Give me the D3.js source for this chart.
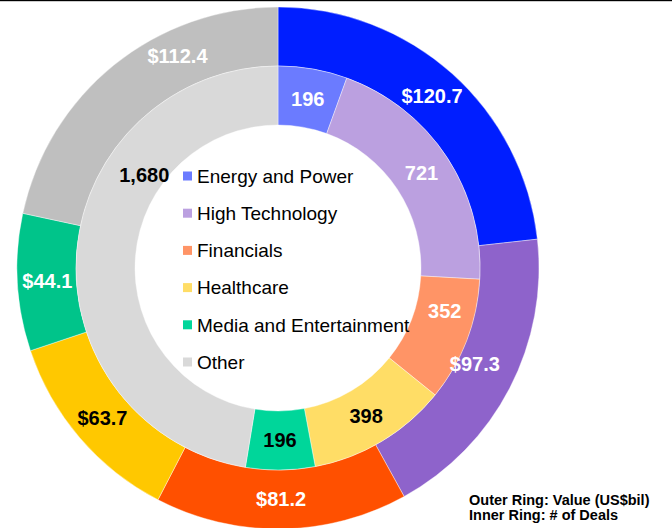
<!DOCTYPE html>
<head>
  <meta charset="utf-8">
  <script src="https://d3js.org/d3.v7.min.js"></script>
  <style>
    body { margin:0; background:#fff; }
    text { font-family: "Liberation Sans", Arial, sans-serif; }
  </style>
</head>
<body>
  <script>
    // data
    var categories = ["Energy and Power", "High Technology", "Financials", "Healthcare", "Media and Entertainment", "Other"]
    var valueBil = [120.7, 97.3, 81.2, 63.7, 44.1, 112.4]   // outer ring
    var dealCount = [196, 721, 352, 398, 196, 1680]         // inner ring

    var outerColors = ["#001eff", "#8e63cb", "#ff5000", "#ffc800", "#00c48a", "#bfbfbf"]
    var innerColors = ["#6b7bff", "#bba0e0", "#ff9466", "#ffdd66", "#00d69a", "#d9d9d9"]
    var outerTextColors = ["#fff", "#fff", "#fff", "#000", "#fff", "#fff"]
    var innerTextColors = ["#fff", "#fff", "#fff", "#000", "#000", "#000"]

    // where inside each slice the label sits (fraction of the angle, radius)
    var outerLabelFrac = [0.5, 0.48, 0.5, 0.5, 0.5, 0.675]
    var outerLabelR = [231, 219, 231, 231, 231, 235]
    var innerLabelFrac = [0.5, 0.5, 0.31, 0.5, 0.5, 0.677]
    var innerLabelR = [172, 172, 172, 172, 172, 163]

    var width = 672, height = 528
    var cx = 278, cy = 268
    var rOuter = 261, rMid = 202, rInner = 143

    var svg = d3.select("body").append("svg")
      .attr("width", width)
      .attr("height", height)

    svg.append("rect").attr("x", 0).attr("y", 0).attr("width", width).attr("height", 1.2).attr("fill", "#000")

    var g = svg.append("g").attr("transform", "translate(" + cx + "," + cy + ")")

    var pie = d3.pie().sort(null).value(function(d){ return d })

    var outerArcs = pie(valueBil)
    var innerArcs = pie(dealCount)

    var outerArc = d3.arc().innerRadius(rMid).outerRadius(rOuter)
    var innerArc = d3.arc().innerRadius(rInner).outerRadius(rMid)

    g.selectAll(".outer").data(outerArcs).enter().append("path")
      .attr("class", "outer")
      .attr("d", outerArc)
      .attr("fill", function(d,i){ return outerColors[i] })
      .attr("stroke", "#fff").attr("stroke-width", 0.4)

    g.selectAll(".inner").data(innerArcs).enter().append("path")
      .attr("class", "inner")
      .attr("d", innerArc)
      .attr("fill", function(d,i){ return innerColors[i] })
      .attr("stroke", "#fff").attr("stroke-width", 0.4)

    function labelPos(d, frac, r){
      var a = d.startAngle + frac * (d.endAngle - d.startAngle)
      return [r * Math.sin(a), -r * Math.cos(a)]
    }

    g.selectAll(".olab").data(outerArcs).enter().append("text")
      .attr("class", "olab")
      .attr("transform", function(d,i){ return "translate(" + labelPos(d, outerLabelFrac[i], outerLabelR[i]) + ")" })
      .attr("dy", "0.36em")
      .attr("text-anchor", "middle")
      .attr("font-size", 20).attr("font-weight", "bold")
      .attr("fill", function(d,i){ return outerTextColors[i] })
      .text(function(d){ return "$" + d.data.toFixed(1) })

    g.selectAll(".ilab").data(innerArcs).enter().append("text")
      .attr("class", "ilab")
      .attr("transform", function(d,i){ return "translate(" + labelPos(d, innerLabelFrac[i], innerLabelR[i]) + ")" })
      .attr("dy", "0.36em")
      .attr("text-anchor", "middle")
      .attr("font-size", 20).attr("font-weight", "bold")
      .attr("fill", function(d,i){ return innerTextColors[i] })
      .text(function(d){ return d3.format(",")(d.data) })

    // legend inside the hole
    var legend = svg.append("g").attr("transform", "translate(183,176)")
    var row = legend.selectAll(".leg").data(categories).enter().append("g")
      .attr("class", "leg")
      .attr("transform", function(d,i){ return "translate(0," + (i * 37.2) + ")" })
    row.append("rect")
      .attr("x", 0).attr("y", -4.5).attr("width", 9).attr("height", 9)
      .attr("fill", function(d,i){ return innerColors[i] })
    row.append("text")
      .attr("x", 14).attr("dy", "0.36em")
      .attr("font-size", 19)
      .attr("fill", "#000")
      .text(function(d){ return d })

    var note = svg.append("g").attr("transform", "translate(469,505)")
    note.append("text").attr("font-size", 14.5).attr("font-weight", "bold").attr("fill", "#000")
      .text("Outer Ring: Value (US$bil)")
    note.append("text").attr("y", 15).attr("font-size", 14.5).attr("font-weight", "bold").attr("fill", "#000")
      .text("Inner Ring: # of Deals")
  </script>
</body>
